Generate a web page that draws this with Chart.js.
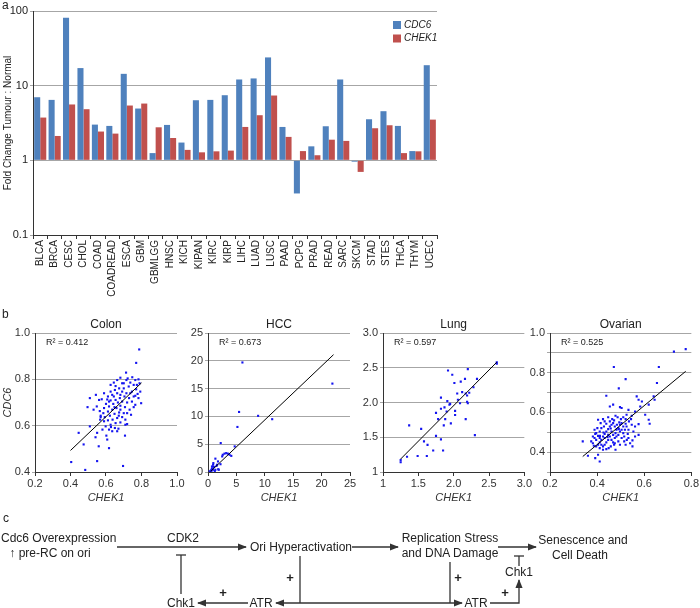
<!DOCTYPE html>
<html>
<head>
<meta charset="utf-8">
<script src="https://cdn.jsdelivr.net/npm/chart.js@4.4.0/dist/chart.umd.min.js"></script>
<style>
  body { margin: 0; background: #fff; }
  #page { position: relative; width: 700px; height: 608px; overflow: hidden; font-family: "Liberation Sans", Arial, sans-serif; }
  canvas { position: absolute; }
  svg { position: absolute; left: 0; top: 0; pointer-events: none; }
  svg text { font-family: "Liberation Sans", Arial, sans-serif; fill: #222; }
</style>
</head>
<body>
<div id="page">
  <canvas id="barChart" width="445" height="300" style="left:0;top:0"></canvas>
  <canvas id="colonChart" width="186" height="197" style="left:0;top:312px"></canvas>
  <canvas id="hccChart" width="172" height="197" style="left:186px;top:312px"></canvas>
  <canvas id="lungChart" width="175" height="197" style="left:358px;top:312px"></canvas>
  <canvas id="ovarianChart" width="170" height="197" style="left:530px;top:312px"></canvas>

  <svg width="700" height="608">
    <defs>
      <marker id="head" viewBox="0 0 10 10" refX="9" refY="5" markerWidth="7" markerHeight="7" orient="auto-start-reverse">
        <path d="M0,1 L10,5 L0,9 z" fill="#333"></path>
      </marker>
    </defs>
    <text x="2" y="9" font-size="12">a</text>
    <text x="2" y="318" font-size="12">b</text>
    <text x="3" y="522" font-size="12">c</text>

    <g font-size="12">
      <text x="1" y="542">Cdc6 Overexpression</text>
      <text x="50" y="557" text-anchor="middle">↑ pre-RC on ori</text>
      <text x="183" y="542" text-anchor="middle">CDK2</text>
      <text x="250" y="551">Ori Hyperactivation</text>
      <text x="450" y="542" text-anchor="middle">Replication Stress</text>
      <text x="450" y="557" text-anchor="middle">and DNA Damage</text>
      <text x="583" y="544" text-anchor="middle">Senescence and</text>
      <text x="580" y="559" text-anchor="middle">Cell Death</text>
      <text x="519" y="576" text-anchor="middle">Chk1</text>
      <text x="181" y="607" text-anchor="middle">Chk1</text>
      <text x="261" y="607" text-anchor="middle">ATR</text>
      <text x="476" y="607" text-anchor="middle">ATR</text>
    </g>
    <g font-size="13" font-weight="bold" text-anchor="middle">
      <text x="223" y="597">+</text>
      <text x="290" y="582">+</text>
      <text x="458" y="582">+</text>
      <text x="505" y="597">+</text>
    </g>
    <g stroke="#333" stroke-width="1.3" fill="none">
      <line x1="117" y1="547" x2="246" y2="547" marker-end="url(#head)"></line>
      <line x1="352" y1="547" x2="398" y2="547" marker-end="url(#head)"></line>
      <line x1="498" y1="547" x2="536" y2="547" marker-end="url(#head)"></line>
      <line x1="519" y1="556" x2="519" y2="566"></line>
      <line x1="514" y1="556" x2="524" y2="556"></line>
      <polyline points="490,603 519,603 519,580" marker-end="url(#head)"></polyline>
      <line x1="300" y1="556" x2="300" y2="603"></line>
      <line x1="450" y1="562" x2="450" y2="603"></line>
      <line x1="276" y1="603" x2="462" y2="603" marker-start="url(#head)" marker-end="url(#head)"></line>
      <line x1="248" y1="603" x2="198" y2="603" marker-end="url(#head)"></line>
      <line x1="181" y1="594" x2="181" y2="555"></line>
      <line x1="176" y1="555" x2="186" y2="555"></line>
    </g>
  </svg>
</div>

<script>
// panel a: fold change tumour vs normal
var cancers = ['BLCA', 'BRCA', 'CESC', 'CHOL', 'COAD', 'COADREAD', 'ESCA', 'GBM', 'GBMLGG', 'HNSC',
  'KICH', 'KIPAN', 'KIRC', 'KIRP', 'LIHC', 'LUAD', 'LUSC', 'PAAD', 'PCPG', 'PRAD',
  'READ', 'SARC', 'SKCM', 'STAD', 'STES', 'THCA', 'THYM', 'UCEC'];
var cdc6Fold = [7.0, 6.45, 81, 17.2, 3.01, 2.89, 14.4, 4.94, 1.25, 2.98,
  1.73, 6.38, 6.45, 7.45, 12.1, 12.5, 23.9, 2.8, 0.36, 1.54,
  2.86, 12.1, 0.96, 3.55, 4.55, 2.89, 1.33, 18.8];
var chek1Fold = [3.74, 2.12, 5.6, 4.84, 2.43, 2.28, 5.42, 5.76, 2.77, 1.99,
  1.38, 1.28, 1.32, 1.35, 2.8, 4.02, 7.38, 2.06, 1.33, 1.17,
  1.89, 1.82, 0.70, 2.69, 2.95, 1.25, 1.32, 3.51];
var logTicks = [0.1, 1, 10, 100];

// panel b: CHEK1 (x) vs CDC6 (y)
var colonPoints = [[0.787,0.929],[0.770,0.871],[0.713,0.829],[0.404,0.443],[0.483,0.409],[0.696,0.426],[0.550,0.447],
  [0.474,0.519],[0.446,0.569],[0.559,0.511],[0.617,0.503],[0.707,0.557],[0.541,0.550],[0.550,0.569],[0.602,0.557],
  [0.509,0.597],[0.628,0.594],[0.670,0.587],[0.719,0.607],[0.496,0.680],[0.509,0.719],[0.798,0.697],
  [0.681,0.807],[0.644,0.786],[0.715,0.797],[0.737,0.786],[0.765,0.797],[0.783,0.800],[0.789,0.783],[0.756,0.776],
  [0.728,0.769],[0.700,0.783],[0.674,0.761],[0.650,0.754],[0.626,0.747],[0.589,0.740],[0.611,0.726],[0.635,0.733],
  [0.663,0.740],[0.691,0.747],[0.715,0.740],[0.746,0.747],[0.770,0.757],[0.778,0.737],[0.756,0.726],[0.730,0.719],
  [0.704,0.726],[0.678,0.719],[0.654,0.711],[0.626,0.709],[0.600,0.694],[0.576,0.714],[0.607,0.713],[0.641,0.694],
  [0.667,0.700],[0.691,0.704],[0.719,0.700],[0.746,0.704],[0.765,0.690],[0.756,0.680],[0.733,0.669],[0.707,0.680],
  [0.681,0.686],[0.659,0.676],[0.635,0.669],[0.611,0.661],[0.585,0.654],[0.565,0.663],[0.570,0.643],[0.593,0.637],
  [0.622,0.643],[0.648,0.651],[0.674,0.657],[0.700,0.654],[0.719,0.654],[0.741,0.647],[0.691,0.637],[0.663,0.633],
  [0.637,0.626],[0.611,0.623],[0.589,0.619],[0.567,0.626],[0.570,0.637],[0.626,0.604],[0.654,0.611],[0.681,0.614],
  [0.709,0.626],[0.598,0.597],[0.617,0.583],[0.663,0.576],[0.648,0.680],[0.681,0.669],[0.617,0.683],[0.589,0.676],
  [0.548,0.683],[0.530,0.669],[0.561,0.711],[0.543,0.733],[0.691,0.783],[0.663,0.797],[0.626,0.776],[0.654,0.771],
  [0.700,0.761],[0.722,0.804],[0.748,0.809],[0.774,0.776],[0.765,0.729],[0.783,0.719],[0.793,0.747],[0.737,0.740],
  [0.681,0.733],[0.644,0.726],[0.617,0.704],[0.672,0.643],[0.709,0.604],[0.635,0.576],[0.607,0.540],[0.580,0.583],
  [0.650,0.590]];
var colonFit = [[0.4, 0.493], [0.8, 0.785]];

var hccPoints = [[6.06,19.7],[21.9,15.9],[5.47,10.8],[8.82,10.1],[11.3,9.5],[5.18,8.1],[2.24,5.2],[4.7,4.6],
  [3.2,3.4],[3.5,3.3],[2.9,3.3],[2.6,3.1],[3.8,3.1],[1.3,2.4],[1.76,1.9],[2.2,1.4],[1.5,1.1],[0.9,1.3],
  [1.06,0.9],[0.7,0.66],[0.6,0.4],[0.5,0.24],[0.9,0.4],[1.3,0.4],[1.8,0.5],[1.9,0.4],[0.3,0.12],[0.6,0.06],
  [1.2,0.18],[0.94,1.6],[0.7,1.0],[1.6,1.3],[2.5,2.8],[4.1,2.9]];
var hccFit = [[0.47, 0.12], [22.1, 21.1]];

var lungPoints = [[2.61,2.58],[2.61,2.56],[1.25,1.14],[1.25,1.17],[1.34,1.22],[1.49,1.23],[1.62,1.23],[1.71,1.31],
  [1.85,1.31],[1.63,1.39],[1.58,1.44],[1.82,1.47],[1.75,1.52],[1.54,1.62],[1.37,1.67],[1.86,1.67],[1.96,1.70],
  [1.78,1.76],[1.88,1.76],[2.02,1.82],[2.02,1.88],[1.75,1.85],[1.90,1.87],[1.82,1.91],[1.87,1.93],[1.94,1.97],
  [1.95,1.98],[1.91,2.02],[2.09,1.99],[2.06,2.04],[1.82,2.07],[2.19,2.01],[2.20,1.99],[2.17,1.76],[2.30,1.53],
  [2.05,2.13],[2.17,2.13],[2.22,2.14],[2.19,2.10],[2.28,2.22],[2.01,2.28],[2.10,2.30],[2.16,2.34],[2.33,2.34],
  [1.98,2.40],[1.92,2.46],[2.20,2.48],[2.12,2.15]];
var lungFit = [[1.25, 1.187], [2.61, 2.58]];

var ovarianPoints = [[0.776,0.919],[0.726,0.906],[0.471,0.829],[0.662,0.829],[0.521,0.768],[0.654,0.748],[0.492,0.721],
  [0.439,0.684],[0.339,0.454],[0.361,0.382],[0.404,0.387],[0.411,0.353],[0.392,0.370],
  [0.640,0.681],[0.644,0.664],[0.619,0.563],[0.623,0.543],[0.604,0.588],[0.619,0.639],[0.576,0.664],[0.568,0.681],
  [0.590,0.655],[0.583,0.630],[0.561,0.605],[0.547,0.583],[0.525,0.588],[0.504,0.622],[0.497,0.627],[0.468,0.639],
  [0.454,0.630],[0.533,0.613],[0.521,0.566],[0.447,0.576],[0.404,0.563],[0.425,0.566],[0.547,0.538],[0.561,0.529],
  [0.576,0.541],[0.533,0.513],[0.515,0.479],[0.526,0.462],[0.550,0.459],[0.521,0.437],[0.472,0.437],[0.478,0.412],
  [0.533,0.471],[0.576,0.487],
  [0.389,0.513],[0.396,0.496],[0.404,0.482],[0.411,0.471],[0.418,0.462],[0.425,0.479],[0.432,0.492],[0.439,0.504],
  [0.447,0.516],[0.454,0.529],[0.461,0.538],[0.468,0.546],[0.475,0.529],[0.482,0.513],[0.490,0.521],[0.497,0.538],
  [0.504,0.546],[0.511,0.529],[0.518,0.513],[0.525,0.529],[0.497,0.504],[0.490,0.487],[0.482,0.479],[0.475,0.471],
  [0.468,0.487],[0.461,0.504],[0.454,0.479],[0.447,0.462],[0.439,0.449],[0.432,0.437],[0.425,0.429],[0.418,0.437],
  [0.411,0.449],[0.404,0.437],[0.396,0.462],[0.389,0.471],[0.382,0.479],[0.432,0.471],[0.447,0.487],[0.461,0.462],
  [0.475,0.445],[0.490,0.454],[0.504,0.471],[0.511,0.496],[0.504,0.513],[0.492,0.516],[0.484,0.538],[0.472,0.560],
  [0.464,0.566],[0.454,0.555],[0.439,0.543],[0.429,0.529],[0.418,0.521],[0.411,0.504],[0.401,0.521],[0.415,0.546],
  [0.432,0.555],[0.501,0.566],[0.511,0.576],[0.487,0.576],[0.478,0.583],[0.535,0.555],[0.544,0.566],[0.554,0.504],
  [0.561,0.479],[0.540,0.445],[0.550,0.429],[0.458,0.429],[0.449,0.420],[0.439,0.415],[0.425,0.412],[0.411,0.420],
  [0.396,0.429],[0.382,0.445],[0.375,0.454],[0.386,0.432],[0.468,0.449],[0.497,0.437],[0.515,0.454],[0.530,0.492],
  [0.521,0.543],[0.494,0.550],[0.478,0.496],[0.458,0.519],[0.444,0.476],[0.427,0.499],[0.412,0.482],[0.392,0.492]];
var ovarianFit = [[0.339, 0.378], [0.776, 0.807]];

var FONT = '"Liberation Sans", Arial, sans-serif';
Chart.defaults.font.family = FONT;
Chart.defaults.color = '#222';

var legendPlugin = {
  id: 'boxLegend',
  afterDraw: function (chart) {
    var ctx = chart.ctx, a = chart.chartArea;
    ctx.save();
    ctx.font = 'italic 10px ' + FONT;
    ctx.textBaseline = 'middle';
    chart.data.datasets.forEach(function (ds, i) {
      var y = a.top + 14 + i * 13.5;
      ctx.fillStyle = ds.backgroundColor;
      ctx.fillRect(a.right - 44, y - 4, 8, 8);
      ctx.fillStyle = '#222';
      ctx.fillText(ds.label, a.right - 33, y);
    });
    ctx.restore();
  }
};

var panelText = {
  id: 'panelText',
  afterDraw: function (chart, args, opts) {
    var ctx = chart.ctx, a = chart.chartArea;
    ctx.save();
    ctx.fillStyle = '#222';
    ctx.textBaseline = 'middle';
    ctx.textAlign = 'center';
    ctx.font = '12px ' + FONT;
    ctx.fillText(opts.title, (a.left + a.right) / 2, a.top - 8);
    ctx.textAlign = 'left';
    ctx.font = '9px ' + FONT;
    ctx.fillText(opts.r2, a.left + 11, a.top + 10);
    ctx.restore();
  }
};

new Chart(document.getElementById('barChart'), {
  type: 'bar',
  data: {
    labels: cancers,
    datasets: [
      { label: 'CDC6', data: cdc6Fold, backgroundColor: '#4F81BD', base: 1 },
      { label: 'CHEK1', data: chek1Fold, backgroundColor: '#C0504D', base: 1 }
    ]
  },
  options: {
    responsive: false,
    animation: false,
    layout: { padding: { top: 11, right: 8, left: 0, bottom: 0 } },
    datasets: { bar: { categoryPercentage: 0.84, barPercentage: 1 } },
    plugins: { legend: { display: false }, tooltip: { enabled: false } },
    scales: {
      x: {
        grid: { drawOnChartArea: false, tickLength: 4, color: '#333', offset: true },
        border: { color: '#333' },
        ticks: { autoSkip: false, minRotation: 90, maxRotation: 90, padding: 1, font: { size: 10 } },
        afterFit: function (s) { s.height = 65; }
      },
      y: {
        type: 'logarithmic',
        min: 0.1,
        max: 100,
        afterBuildTicks: function (s) { s.ticks = logTicks.map(function (v) { return { value: v }; }); },
        ticks: { callback: function (v) { return String(v); }, font: { size: 11 }, padding: 2 },
        grid: { color: '#a6a6a6', tickLength: 3 },
        border: { color: '#333' },
        title: { display: true, text: 'Fold Change Tumour : Normal', font: { size: 10 }, padding: { top: 2, bottom: 0 } },
        afterFit: function (s) { s.width = 33; }
      }
    }
  },
  plugins: [legendPlugin]
});

function drawScatter(id, title, r2, points, fit, yWidth, padTop, padRight, xs, ys, yTitle) {
  return new Chart(document.getElementById(id), {
    type: 'scatter',
    data: {
      datasets: [
        { data: fit, showLine: true, borderColor: '#000', borderWidth: 1, pointRadius: 0 },
        { data: points, pointStyle: 'rect', pointRadius: 1.5, backgroundColor: '#1414f0', borderWidth: 0 }
      ]
    },
    options: {
      responsive: false,
      animation: false,
      layout: { padding: { top: padTop, right: padRight, left: 0, bottom: 0 } },
      plugins: { legend: { display: false }, tooltip: { enabled: false }, panelText: { title: title, r2: r2 } },
      scales: {
        x: {
          type: 'linear', min: xs.min, max: xs.max,
          ticks: { stepSize: xs.step, callback: xs.label, font: { size: 11 }, padding: 1, color: '#333' },
          grid: { drawOnChartArea: false, tickLength: 4, color: '#333' },
          border: { color: '#333' },
          title: { display: true, text: 'CHEK1', font: { size: 11, style: 'italic' }, color: '#333' },
          afterFit: function (s) { s.height = 37; }
        },
        y: {
          type: 'linear', min: ys.min, max: ys.max,
          ticks: { stepSize: ys.step, callback: ys.label, font: { size: 11 }, padding: 2, color: '#333' },
          grid: { color: '#a6a6a6', tickLength: 3 },
          border: { color: '#333' },
          title: { display: !!yTitle, text: yTitle || '', font: { size: 11, style: 'italic' }, color: '#333', padding: { top: 1, bottom: 0 } },
          afterFit: function (s) { s.width = yWidth; }
        }
      }
    },
    plugins: [panelText]
  });
}

function oneDec(v) { return v.toFixed(1); }
function intLabel(v) { return String(Math.round(v)); }
function lungLabel(v) { return v === 1 ? '1' : v.toFixed(1); }
function evenDec(v) { return Math.round(v * 10) % 2 === 0 ? v.toFixed(1) : ''; }

drawScatter('colonChart', 'Colon', 'R² = 0.412', colonPoints, colonFit, 35, 21, 9,
  { min: 0.2, max: 1.0, step: 0.2, label: oneDec }, { min: 0.4, max: 1.0, step: 0.2, label: oneDec }, 'CDC6');
drawScatter('hccChart', 'HCC', 'R² = 0.673', hccPoints, hccFit, 22, 21, 8,
  { min: 0, max: 25, step: 5, label: intLabel }, { min: 0, max: 25, step: 5, label: intLabel });
drawScatter('lungChart', 'Lung', 'R² = 0.597', lungPoints, lungFit, 25, 21, 8,
  { min: 1, max: 3, step: 0.5, label: lungLabel }, { min: 1, max: 3, step: 0.5, label: lungLabel });
drawScatter('ovarianChart', 'Ovarian', 'R² = 0.525', ovarianPoints, ovarianFit, 20, 21, 8,
  { min: 0.2, max: 0.8, step: 0.2, label: oneDec }, { min: 0.3, max: 1.0, step: 0.1, label: evenDec });
</script>
</body>
</html>
